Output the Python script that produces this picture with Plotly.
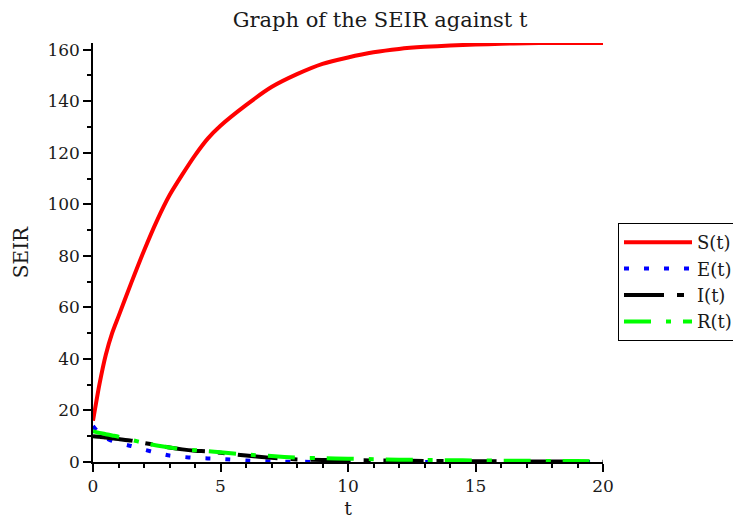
import plotly.graph_objects as go

t = [0, 0.25, 0.5, 0.75, 1, 1.5, 2, 2.5, 3, 3.5, 4, 4.5, 5, 6, 7, 8, 9, 10,
     11, 12, 13, 14, 15, 16, 17, 18, 19, 20]
S = [16, 30, 41.5, 50, 56.5, 69.5, 82, 93.5, 103.5, 111.5, 119, 125.5, 130.5, 138.5,
     145.5, 150.5, 154.5, 157, 159, 160.3, 161.1, 161.6, 162, 162.3, 162.5, 162.6, 162.6, 162.6]
E = [14, 11, 9.3, 8.2, 7.4, 6.2, 4.8, 3.6, 2.5, 2.0, 1.6, 1.4, 1.2, 0.6, 0.2, 0.1,
     0, 0, 0, 0, 0, 0, 0, 0, 0, 0, 0, 0]
I = [10, 9.8, 9.5, 9.2, 8.9, 8.3, 7.4, 6.5, 5.6, 4.9, 4.4, 4.1, 3.6, 2.5, 1.6, 1.0,
     0.8, 0.7, 0.6, 0.5, 0.4, 0.35, 0.3, 0.25, 0.2, 0.2, 0.15, 0.1]
R = [12, 11.3, 10.8, 10.3, 9.8, 8.6, 7.4, 6.4, 5.6, 5.0, 4.6, 4.2, 3.8, 2.9, 2.3,
     1.7, 1.5, 1.3, 1.1, 0.9, 0.8, 0.7, 0.6, 0.5, 0.45, 0.4, 0.35, 0.3]

names = ["S(t)", "E(t)", "I(t)", "R(t)"]
colors = ["#ff0000", "#0000ff", "#000000", "#00ff00"]
dashes = ["solid", "5px,15px", "40px,13px,7px,13px", "27px,15px,5px,12px"]

FONT = "DejaVu Serif, serif"
TXT = "#1a1a1a"

fig = go.Figure()
for name, y, c, d in zip(names, [S, E, I, R], colors, dashes):
    fig.add_trace(go.Scatter(x=t, y=y, mode="lines", name=name,
                             line=dict(color=c, width=4, dash=d, shape="spline", smoothing=0.6)))

axis_common = dict(
    showline=True, linecolor="black", linewidth=1.5,
    ticks="outside", ticklen=8, tickwidth=1.5, tickcolor="black",
    showgrid=False, zeroline=False, automargin=False,
    tickfont=dict(family=FONT, size=17, color=TXT),
)

fig.update_layout(
    width=733, height=519,
    margin=dict(l=93, r=130, t=43, b=57, autoexpand=False),
    paper_bgcolor="white", plot_bgcolor="white",
    title=dict(text="Graph of the SEIR against t", x=380/733, xref="container",
               xanchor="center", y=1-20/519, yref="container", yanchor="middle",
               font=dict(family=FONT, size=21, color=TXT)),
    xaxis=dict(range=[0, 20], dtick=5, tick0=0,
               minor=dict(dtick=1, ticklen=4, tickcolor="black", tickwidth=1.5, ticks="outside"),
               title=dict(text="t", font=dict(family=FONT, size=19, color=TXT), standoff=14),
               **axis_common),
    yaxis=dict(range=[0, 162.6], dtick=20, tick0=0,
               minor=dict(dtick=10, ticklen=4, tickcolor="black", tickwidth=1.5, ticks="outside"),
               title=dict(text="SEIR", font=dict(family=FONT, size=20, color=TXT), standoff=13),
               **axis_common),
    legend=dict(x=618/733, y=1-223/519, xref="container", yref="container",
                xanchor="left", yanchor="top",
                bgcolor="white", bordercolor="black", borderwidth=1,
                font=dict(family=FONT, size=18, color=TXT),
                itemwidth=68, tracegroupgap=0),
    showlegend=True,
)

fig.write_html("out.html")
